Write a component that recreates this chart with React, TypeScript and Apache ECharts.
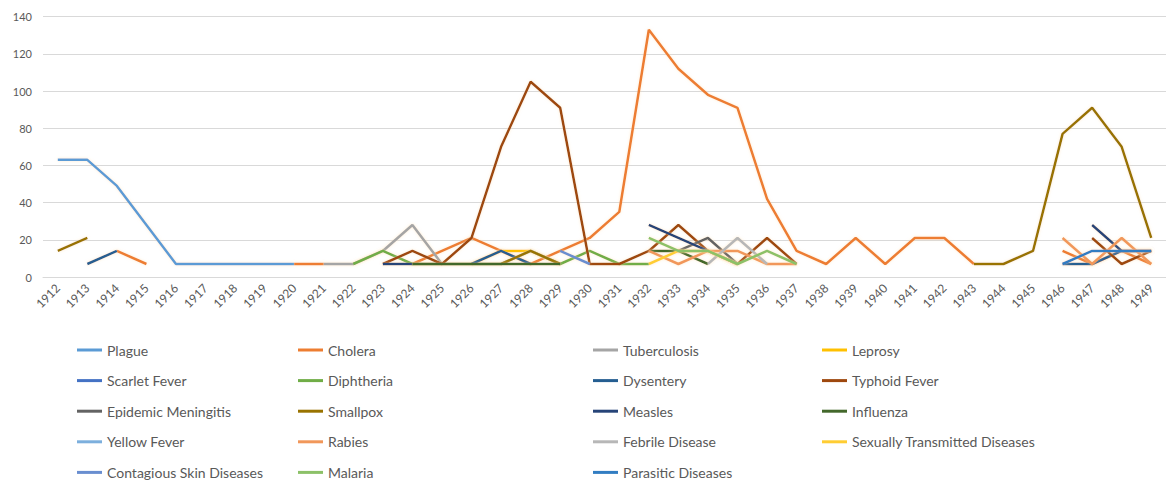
import React, { useEffect, useRef } from "react";
import * as echarts from "echarts";

const years = [
  "1912","1913","1914","1915","1916","1917","1918","1919","1920","1921",
  "1922","1923","1924","1925","1926","1927","1928","1929","1930","1931",
  "1932","1933","1934","1935","1936","1937","1938","1939","1940","1941",
  "1942","1943","1944","1945","1946","1947","1948","1949",
];

const yTicks = [0, 20, 40, 60, 80, 100, 120, 140];

type P = [number, number];

const plague: P[] = [[1912,63],[1913,63],[1914,49],[1915,28],[1916,7],[1917,7],[1918,7],[1919,7],[1920,7]];
const cholera: P[] = [[1914,14],[1915,7],[1920,7],[1921,7],[1924,7],[1925,14],[1926,21],[1927,14],[1928,7],[1929,14],[1930,21],[1931,35],[1932,133],[1933,112],[1934,98],[1935,91],[1936,42],[1937,14],[1938,7],[1939,21],[1940,7],[1941,21],[1942,21],[1943,7],[1946,14],[1947,7],[1948,14],[1949,7]];
const tuberculosis: P[] = [[1921,7],[1922,7],[1923,14],[1924,28],[1925,7]];
const leprosy: P[] = [[1926,7],[1927,14],[1928,14],[1929,7]];
const scarletFever: P[] = [[1923,7],[1924,7],[1925,7]];
const diphtheria: P[] = [[1922,7],[1923,14],[1924,7],[1925,7],[1926,7],[1927,7],[1928,14],[1929,7],[1930,14],[1931,7],[1932,7]];
const dysentery: P[] = [[1913,7],[1914,14],[1926,7],[1927,14],[1928,7],[1946,7],[1947,7],[1948,14]];
const typhoid: P[] = [[1923,7],[1924,14],[1925,7],[1926,21],[1927,70],[1928,105],[1929,91],[1930,7],[1931,7],[1932,14],[1933,28],[1934,14],[1935,7],[1936,21],[1937,7],[1947,21],[1948,7],[1949,14]];
const meningitis: P[] = [[1933,14],[1934,21],[1935,7],[1948,14],[1949,14]];
const smallpox: P[] = [[1912,14],[1913,21],[1927,7],[1928,14],[1929,7],[1943,7],[1944,7],[1945,14],[1946,77],[1947,91],[1948,70],[1949,21]];
const measles: P[] = [[1923,7],[1924,7],[1932,28],[1933,21],[1934,14],[1935,7],[1947,28],[1948,14],[1949,14]];
const influenza: P[] = [[1924,7],[1925,7],[1926,7],[1927,7],[1928,7],[1929,7],[1932,14],[1933,14],[1934,7]];
const yellowFever: P[] = [[1924,7],[1925,7],[1930,7],[1931,7]];
const rabies: P[] = [[1932,14],[1933,7],[1934,14],[1935,14],[1936,7],[1937,7],[1946,21],[1947,7],[1948,21],[1949,7]];
const febrile: P[] = [[1934,7],[1935,21],[1936,7]];
const std: P[] = [[1932,7],[1933,14],[1934,14],[1935,7]];
const skin: P[] = [[1929,14],[1930,7]];
const malaria: P[] = [[1932,21],[1933,14],[1934,14],[1935,7],[1936,14],[1937,7]];
const parasitic: P[] = [[1946,7],[1947,14],[1948,14],[1949,14]];

const seriesDefs: [string, P[], string][] = [
  ["Plague", plague, "#5B9BD5"],
  ["Cholera", cholera, "#ED7D31"],
  ["Tuberculosis", tuberculosis, "#A5A5A5"],
  ["Leprosy", leprosy, "#FFC000"],
  ["Scarlet Fever", scarletFever, "#4472C4"],
  ["Diphtheria", diphtheria, "#70AD47"],
  ["Dysentery", dysentery, "#255E91"],
  ["Typhoid Fever", typhoid, "#9E480E"],
  ["Epidemic Meningitis", meningitis, "#636363"],
  ["Smallpox", smallpox, "#997300"],
  ["Measles", measles, "#264478"],
  ["Influenza", influenza, "#43682B"],
  ["Yellow Fever", yellowFever, "#7CAFDD"],
  ["Rabies", rabies, "#F1975A"],
  ["Febrile Disease", febrile, "#B7B7B7"],
  ["Sexually Transmitted Diseases", std, "#FFCD33"],
  ["Contagious Skin Diseases", skin, "#698ED0"],
  ["Malaria", malaria, "#8CC168"],
  ["Parasitic Diseases", parasitic, "#327DC2"],
];

const legendColumns: [number, string[]][] = [
  [77, ["Plague", "Scarlet Fever", "Epidemic Meningitis", "Yellow Fever", "Contagious Skin Diseases"]],
  [298, ["Cholera", "Diphtheria", "Smallpox", "Rabies", "Malaria"]],
  [593, ["Tuberculosis", "Dysentery", "Measles", "Febrile Disease", "Parasitic Diseases"]],
  [822, ["Leprosy", "Typhoid Fever", "Influenza", "Sexually Transmitted Diseases"]],
];

const toData = (pairs: P[]) =>
  years.map((y) => {
    const f = pairs.find((p) => String(p[0]) === y);
    return f ? f[1] : null;
  });

export default function App() {
  const ref = useRef<HTMLDivElement>(null);
  useEffect(() => {
    if (!ref.current) return;
    const chart = echarts.init(ref.current, undefined, { renderer: "svg" });
    const font = "Lato, 'Open Sans', sans-serif";
    chart.setOption({
      animation: false,
      backgroundColor: "#ffffff",
      grid: { left: 43, right: 0, top: 16.7, bottom: 205, containLabel: false },
      xAxis: {
        type: "category",
        data: years,
        boundaryGap: true,
        axisLine: { show: true, lineStyle: { color: "#D9D9D9", width: 1 } },
        axisTick: { show: false },
        axisLabel: { rotate: 45, color: "#595959", fontSize: 12, fontFamily: font, margin: 9, interval: 0 },
        splitLine: { show: false },
      },
      yAxis: {
        type: "value",
        min: yTicks[0],
        max: yTicks[yTicks.length - 1],
        interval: 20,
        axisLine: { show: false },
        axisTick: { show: false },
        axisLabel: { color: "#595959", fontSize: 11, fontFamily: font, margin: 11 },
        splitLine: { lineStyle: { color: "#D9D9D9", width: 1 } },
      },
      legend: legendColumns.map(([left, names]) => ({
        orient: "vertical",
        left,
        top: 343,
        height: 160,
        padding: 0,
        data: names,
        icon: "rect",
        itemWidth: 25,
        itemHeight: 3,
        itemGap: 16.6,
        textStyle: { color: "#595959", fontSize: 14, fontFamily: font, lineHeight: 14 },
        selectedMode: false,
      })),
      series: seriesDefs.map(([name, pairs, color]) => ({
        name,
        type: "line",
        data: toData(pairs),
        symbol: "none",
        connectNulls: false,
        color,
        lineStyle: { color, width: 2.5, shadowColor: "rgba(255,220,170,0.55)", shadowBlur: 3 },
      })),
    });
    return () => chart.dispose();
  }, []);
  return (
    <div
      ref={ref}
      style={{ position: "absolute", left: 0, top: 0, width: 1166, height: 482 }}
    />
  );
}
